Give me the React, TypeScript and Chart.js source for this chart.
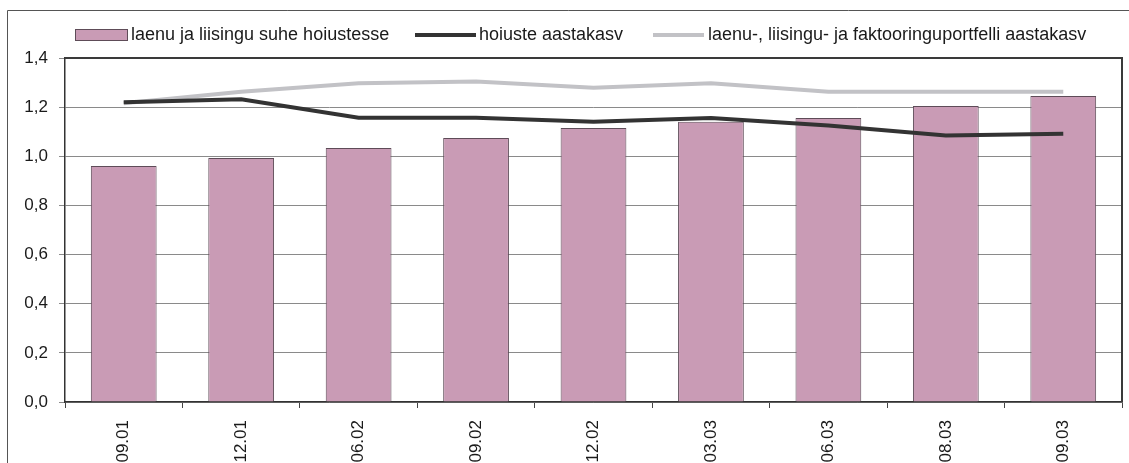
import React, { useEffect, useRef } from "react";
import { Chart, registerables } from "chart.js";

Chart.register(...registerables);

const categories = ["09.01", "12.01", "06.02", "09.02", "12.02", "03.03", "06.03", "08.03", "09.03"];
const loanToDepositRatio = [0.96, 0.993, 1.034, 1.074, 1.115, 1.141, 1.156, 1.205, 1.245];
const depositGrowth = [1.22, 1.232, 1.157, 1.157, 1.141, 1.156, 1.125, 1.085, 1.092];
const portfolioGrowth = [1.216, 1.263, 1.297, 1.304, 1.279, 1.297, 1.263, 1.263, 1.263];

const seriesNames = [
  "laenu ja liisingu suhe hoiustesse",
  "hoiuste aastakasv",
  "laenu-, liisingu- ja faktooringuportfelli aastakasv",
];

const FONT = '"Liberation Sans", Arial, sans-serif';
const BAR_COLOR = "#C99BB5";
const BAR_BORDER = "#5E4C58";
const DARK_LINE = "#333333";
const LIGHT_LINE = "#C2C2C6";

const framePlugin = {
  id: "frameAndLegend",
  afterDraw(chart: any) {
    const ctx = chart.ctx;
    const a = chart.chartArea;
    ctx.save();
    // outer frame
    ctx.strokeStyle = "#555";
    ctx.lineWidth = 1;
    ctx.beginPath();
    ctx.moveTo(7.5, chart.height);
    ctx.lineTo(7.5, 10.5);
    ctx.lineTo(chart.width, 10.5);
    ctx.stroke();
    // plot frame top & right
    ctx.strokeStyle = "#3a3a3a";
    ctx.lineWidth = 2;
    ctx.beginPath();
    ctx.moveTo(a.left, a.top);
    ctx.lineTo(a.right, a.top);
    ctx.lineTo(a.right, a.bottom);
    ctx.stroke();

    // legend
    const ly = 35;
    ctx.font = `18px ${FONT}`;
    ctx.textBaseline = "middle";
    ctx.textAlign = "left";
    // bar swatch
    ctx.fillStyle = BAR_COLOR;
    ctx.fillRect(75.5, 29.5, 52, 11);
    ctx.strokeStyle = BAR_BORDER;
    ctx.lineWidth = 1;
    ctx.strokeRect(75.5, 29.5, 52, 11);
    ctx.fillStyle = "#1a1a1a";
    ctx.fillText(seriesNames[0], 131, ly);
    // dark line swatch
    ctx.strokeStyle = DARK_LINE;
    ctx.lineWidth = 4;
    ctx.beginPath();
    ctx.moveTo(415, ly);
    ctx.lineTo(476, ly);
    ctx.stroke();
    ctx.fillText(seriesNames[1], 479, ly);
    // light line swatch
    ctx.strokeStyle = LIGHT_LINE;
    ctx.beginPath();
    ctx.moveTo(653, ly);
    ctx.lineTo(704, ly);
    ctx.stroke();
    ctx.fillText(seriesNames[2], 708, ly);
    ctx.restore();
  },
};

export default function App() {
  const ref = useRef<HTMLCanvasElement | null>(null);

  useEffect(() => {
    document.body.style.margin = "0";
    const canvas = ref.current;
    if (!canvas) return;
    const chart = new Chart(canvas, {
      type: "bar",
      data: {
        labels: categories,
        datasets: [
          {
            type: "line",
            label: seriesNames[1],
            data: depositGrowth,
            borderColor: DARK_LINE,
            backgroundColor: DARK_LINE,
            borderWidth: 4,
            pointRadius: 0,
            tension: 0,
            order: 0,
          } as any,
          {
            type: "line",
            label: seriesNames[2],
            data: portfolioGrowth,
            borderColor: LIGHT_LINE,
            backgroundColor: LIGHT_LINE,
            borderWidth: 4,
            pointRadius: 0,
            tension: 0,
            order: 1,
          } as any,
          {
            type: "bar",
            label: seriesNames[0],
            data: loanToDepositRatio,
            backgroundColor: BAR_COLOR,
            borderColor: BAR_BORDER,
            borderWidth: 1,
            barPercentage: 0.56,
            categoryPercentage: 1,
            order: 2,
          } as any,
        ],
      },
      options: {
        responsive: false,
        animation: false,
        layout: { padding: { left: 0, top: 58, right: 7, bottom: 0 } },
        plugins: {
          legend: { display: false },
          tooltip: { enabled: false },
        },
        scales: {
          x: {
            offset: true,
            grid: {
              offset: true,
              drawOnChartArea: false,
              drawTicks: true,
              tickLength: 6,
              color: "#444",
            },
            border: { display: true, color: "#333", width: 1.5 },
            ticks: {
              minRotation: 90,
              maxRotation: 90,
              padding: 12,
              color: "#1a1a1a",
              font: { family: FONT, size: 17 },
            },
            afterFit: (scale: any) => {
              scale.height = 61;
            },
          },
          y: {
            min: 0,
            max: 1.4,
            ticks: {
              stepSize: 0.2,
              padding: 11,
              color: "#1a1a1a",
              font: { family: FONT, size: 17 },
              callback: (v: any) => Number(v).toFixed(1).replace(".", ","),
            },
            grid: { color: "#8a8a8a", lineWidth: 1, tickLength: 6 },
            border: { display: true, color: "#333", width: 1.5 },
            afterFit: (scale: any) => {
              scale.width = 65;
            },
          },
        },
      },
      plugins: [framePlugin],
    });
    return () => chart.destroy();
  }, []);

  return (
    <div style={{ position: "absolute", left: 0, top: 0, width: 1129, height: 463, background: "#fff" }}>
      <canvas ref={ref} width={1129} height={463} style={{ display: "block" }} />
    </div>
  );
}
